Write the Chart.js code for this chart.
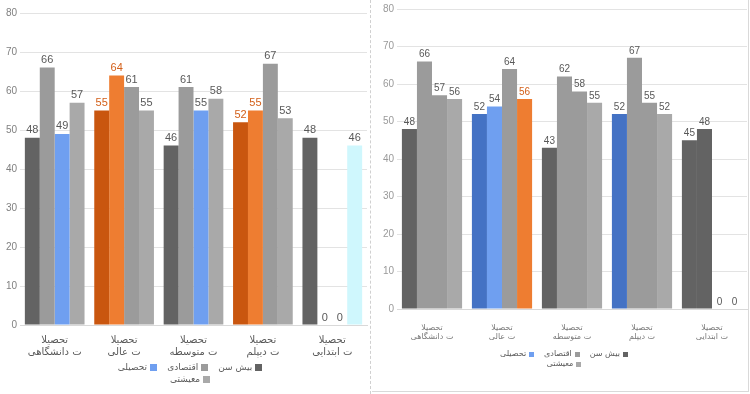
<!DOCTYPE html>
<html lang="fa">
<head>
<meta charset="utf-8">
<script src="https://cdn.jsdelivr.net/npm/chart.js@4.4.1/dist/chart.umd.min.js"></script>
<style>
  html,body{margin:0;padding:0;background:#fff;}
  body{width:750px;height:394px;position:relative;overflow:hidden;font-family:"DejaVu Sans","Noto Sans",sans-serif;}
  #leftBox{position:absolute;left:0;top:0;width:370px;height:394px;border-right:1px dashed #d0d0d0;}
  #rightBox{position:absolute;left:372px;top:0;width:376px;height:391px;border-right:1px solid #d9d9d9;border-bottom:1px solid #d9d9d9;}
  .legend{position:absolute;display:flex;flex-wrap:wrap;justify-content:center;direction:rtl;color:#595959;}
  .legend span{display:inline-flex;align-items:center;white-space:nowrap;}
  .legend i{display:inline-block;}
  #legendL{left:110px;top:361px;width:160px;font-size:9px;line-height:12px;}
  #legendL span{margin:0 5px;}
  #legendL i{width:7px;height:7px;margin-left:3px;}
  #legendR{left:112px;top:349px;width:160px;font-size:8px;line-height:10px;}
  #legendR span{margin:0 5px;}
  #legendR i{width:5px;height:5px;margin-left:3px;}
</style>
</head>
<body>
<div id="leftBox"><canvas id="cL" width="370" height="394"></canvas><div id="legendL" class="legend"></div></div>
<div id="rightBox"><canvas id="cR" width="376" height="391"></canvas><div id="legendR" class="legend"></div></div>
<script>
// ---------- data ----------
const categories = [
  ["تحصیلا", "ت دانشگاهی"],
  ["تحصیلا", "ت عالی"],
  ["تحصیلا", "ت متوسطه"],
  ["تحصیلا", "ت دیپلم"],
  ["تحصیلا", "ت ابتدایی"]
];
const seriesNames = ["بیش سن", "اقتصادی", "تحصیلی", "معیشتی"];
const yTicks = {min: 0, max: 80, step: 10};

// left chart values
const leftS1 = [48, 55, 46, 52, 48];
const leftS2 = [66, 64, 61, 55, 0];
const leftS3 = [49, 61, 55, 67, 0];
const leftS4 = [57, 55, 58, 53, 46];

// right chart values
const rightS1 = [48, 52, 43, 52, 45];
const rightS2 = [66, 54, 62, 67, 48];
const rightS3 = [57, 64, 58, 55, 0];
const rightS4 = [56, 56, 55, 52, 0];

// ---------- styles ----------
const C = {
  dark: "#636363", gray: "#9b9b9b", light: "#a9a9a9", blue: "#6f9ff0",
  dOrange: "#c9560f", orange: "#ee7d31", dBlue: "#4472c4", cyan: "#cff7fd"
};
const LBL = "#595959", LBLO = "#d3601a";
const legendColors = [C.dark, C.gray, C.blue, C.light];

const leftColors = [
  [C.dark, C.dOrange, C.dark, C.dOrange, C.dark],
  [C.gray, C.orange, C.gray, C.orange, C.gray],
  [C.blue, C.gray, C.blue, C.gray, C.blue],
  [C.light, C.light, C.light, C.light, C.cyan]
];
const rightColors = [
  [C.dark, C.dBlue, C.dark, C.dBlue, C.dark],
  [C.gray, C.blue, C.gray, C.gray, C.dark],
  [C.gray, C.gray, C.gray, C.gray, C.gray],
  [C.light, C.orange, C.light, C.light, C.light]
];
function labelColorsFor(cols){ return cols.map(c => (c === C.orange || c === C.dOrange) ? LBLO : LBL); }

const dataLabels = {
  id: "dataLabels",
  afterDatasetsDraw(chart, args, opts) {
    const ctx = chart.ctx;
    ctx.save();
    ctx.font = opts.size + "px 'Liberation Sans', Arial, sans-serif";
    ctx.textAlign = "center";
    ctx.textBaseline = "bottom";
    chart.data.datasets.forEach((ds, i) => {
      const meta = chart.getDatasetMeta(i);
      meta.data.forEach((bar, j) => {
        ctx.fillStyle = ds.labelColors[j];
        ctx.fillText(String(ds.data[j]), bar.x, bar.y - 2);
      });
    });
    ctx.restore();
  }
};

function makeChart(id, values, colors, cfg) {
  const datasets = values.map((v, i) => ({
    label: seriesNames[i],
    data: v,
    backgroundColor: colors[i],
    labelColors: labelColorsFor(colors[i]),
    borderWidth: 0,
    categoryPercentage: 0.86,
    barPercentage: 1.0
  }));
  return new Chart(document.getElementById(id), {
    type: "bar",
    data: { labels: categories, datasets },
    plugins: [dataLabels],
    options: {
      responsive: false,
      animation: false,
      layout: { padding: cfg.padding },
      plugins: {
        legend: { display: false },
        tooltip: { enabled: false },
        dataLabels: { size: cfg.labelSize }
      },
      scales: {
        x: {
          grid: { display: false },
          border: { color: "#d9d9d9" },
          ticks: { color: cfg.xColor, font: { size: cfg.xFont, family: "'DejaVu Sans', sans-serif", lineHeight: 1.15 }, padding: cfg.xPad, maxRotation: 0, autoSkip: false },
          afterFit: s => { s.height = cfg.xHeight; }
        },
        y: {
          min: yTicks.min, max: yTicks.max,
          grid: { color: "#e3e3e3", drawTicks: false },
          border: { display: false },
          ticks: { stepSize: yTicks.step, color: cfg.yColor, font: { size: cfg.yFont, family: "'Liberation Sans', Arial, sans-serif" }, padding: 3 },
          afterFit: s => { s.width = cfg.yWidth; }
        }
      }
    }
  });
}

function makeLegend(id) {
  const el = document.getElementById(id);
  seriesNames.forEach((n, i) => {
    const s = document.createElement("span");
    const b = document.createElement("i");
    b.style.background = legendColors[i];
    s.appendChild(b);
    s.appendChild(document.createTextNode(n));
    el.appendChild(s);
  });
}

makeChart("cL", [leftS1, leftS2, leftS3, leftS4], leftColors, {
  padding: { top: 13, left: 2, right: 3, bottom: 27 },
  yWidth: 18, yFont: 10, yColor: "#808080",
  xHeight: 42, xFont: 10, xPad: 2, xColor: "#595959",
  labelSize: 11
});
makeChart("cR", [rightS1, rightS2, rightS3, rightS4], rightColors, {
  padding: { top: 5, left: 2, right: 1, bottom: 46 },
  yWidth: 23, yFont: 10, yColor: "#9a9a9a",
  xHeight: 36, xFont: 8, xPad: 6, xColor: "#7a7a7a",
  labelSize: 10
});
makeLegend("legendL");
makeLegend("legendR");
</script>
</body>
</html>
